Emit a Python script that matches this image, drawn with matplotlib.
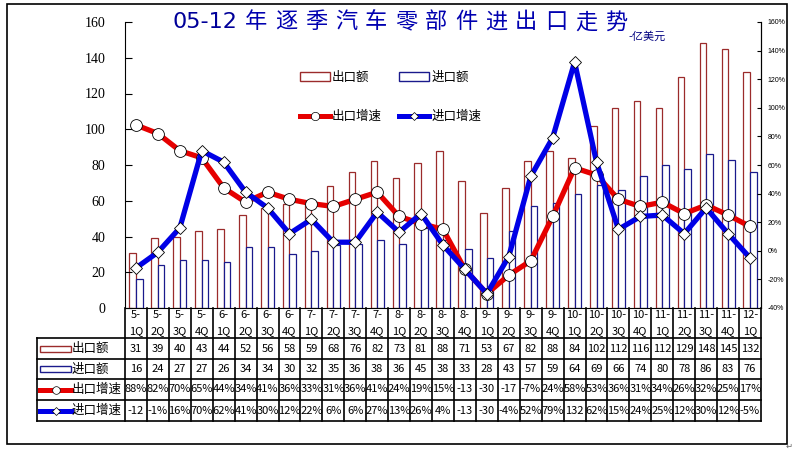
import numpy as np
import matplotlib
matplotlib.use('Agg')
import matplotlib.pyplot as plt
import matplotlib.transforms as mtrans
from matplotlib.patches import Patch, Rectangle
from matplotlib.lines import Line2D

plt.rcParams['font.family'] = ['Noto Sans CJK SC', 'DejaVu Sans']

# ---- data (亿美元 / %) ----
quarters = ['5-1Q', '5-2Q', '5-3Q', '5-4Q', '6-1Q', '6-2Q', '6-3Q', '6-4Q',
            '7-1Q', '7-2Q', '7-3Q', '7-4Q', '8-1Q', '8-2Q', '8-3Q', '8-4Q',
            '9-1Q', '9-2Q', '9-3Q', '9-4Q', '10-1Q', '10-2Q', '10-3Q', '10-4Q',
            '11-1Q', '11-2Q', '11-3Q', '11-4Q', '12-1Q']
export = [31, 39, 40, 43, 44, 52, 56, 58, 59, 68, 76, 82, 73, 81, 88, 71,
          53, 67, 82, 88, 84, 102, 112, 116, 112, 129, 148, 145, 132]
imports = [16, 24, 27, 27, 26, 34, 34, 30, 32, 35, 36, 38, 36, 45, 38, 33,
           28, 43, 57, 59, 64, 69, 66, 74, 80, 78, 86, 83, 76]
export_g = [88, 82, 70, 65, 44, 34, 41, 36, 33, 31, 36, 41, 24, 19, 15, -13,
            -30, -17, -7, 24, 58, 53, 36, 31, 34, 26, 32, 25, 17]
import_g = [-12, -1, 16, 70, 62, 41, 30, 12, 22, 6, 6, 27, 13, 26, 4, -13,
            -30, -4, 52, 79, 132, 62, 15, 24, 25, 12, 30, 12, -5]
names = ['出口额', '进口额', '出口增速', '进口增速']

title_num = '05-12'
title_cn = '年逐季汽车零部件进出口走势'
unit = '-亿美元'

c_exp_bar = '#9b2b2b'
c_imp_bar = '#1a1a8c'
c_exp = '#e60000'
c_imp = '#0000e6'

W, H = 795, 451
L, R, T, B = 125, 761, 22, 308
n = len(quarters)
cw = (R - L) / n

fig = plt.figure(figsize=(W / 100, H / 100), dpi=100)
ax = fig.add_axes([L / W, 1 - B / H, (R - L) / W, (B - T) / H])
ax2 = ax.twinx()

x = np.arange(n)
ax.bar(x - 0.15, export, 0.3, facecolor='white', edgecolor=c_exp_bar, lw=0.9)
ax.bar(x + 0.15, imports, 0.3, facecolor='white', edgecolor=c_imp_bar, lw=0.9)
ax.set_xlim(-0.5, n - 0.5)
ax.set_ylim(0, 160)
ax.set_yticks(range(0, 161, 20))
ax.set_xticks([])
ax.tick_params(axis='y', direction='in', length=5, pad=14, labelsize=10,
               labelfontfamily='Liberation Serif')

ax2.plot(x, export_g, color=c_exp, lw=3.8, marker='o', ms=8.5,
         mfc='white', mec='black', mew=0.6)
ax2.plot(x, import_g, color=c_imp, lw=3.8, marker='D', ms=6,
         mfc='white', mec='black', mew=0.6)
ax2.set_ylim(-40, 160)
ax2.set_yticks(range(-40, 161, 20))
ax2.yaxis.set_major_formatter(lambda v, p: f"{v:.0f}%")
ax2.tick_params(axis='y', direction='in', length=3, pad=5, labelsize=5,
                labelfontfamily='Liberation Sans')
for a in (ax, ax2):
    a.spines['top'].set_visible(False)
ax2.spines['left'].set_visible(False)
ax2.spines['bottom'].set_visible(False)

# legend inside plot
hl = [Patch(facecolor='white', edgecolor=c_exp_bar, lw=1),
      Line2D([], [], color=c_exp, lw=3.6, marker='o', ms=6, mfc='white', mec='black', mew=0.5),
      Patch(facecolor='white', edgecolor=c_imp_bar, lw=1),
      Line2D([], [], color=c_imp, lw=3.6, marker='D', ms=4.5, mfc='white', mec='black', mew=0.5)]
ax2.legend(hl, [names[0], names[2], names[1], names[3]], ncol=2, frameon=False,
           loc='upper left', bbox_to_anchor=(300 / W, 1 - 71 / H),
           bbox_transform=fig.transFigure, borderpad=0, borderaxespad=0,
           fontsize=9, handlelength=2.4, handletextpad=0.15,
           columnspacing=1.4, labelspacing=2.1)

# ---- data table under the axis ----
tr = mtrans.blended_transform_factory(ax.transData, fig.transFigure)
fy = lambda p: 1 - p / H
px2x = lambda p: -0.5 + (p - L) / cw
rows = [308, 338, 359, 379, 400, 421]
hl_x = px2x(37)
for b in np.arange(-0.5, n):
    fig.add_artist(Line2D([b, b], [fy(rows[0]), fy(rows[-1])], transform=tr, color='black', lw=1.2))
fig.add_artist(Line2D([hl_x, hl_x], [fy(rows[1]), fy(rows[-1])], transform=tr, color='black', lw=1.2))
for r in rows[1:]:
    fig.add_artist(Line2D([hl_x, n - 0.5], [fy(r), fy(r)], transform=tr, color='black', lw=1.2))

for i, q in enumerate(quarters):
    yr, qq = q.split('-')
    fig.text(i, fy(315), yr + '-', transform=tr, ha='center', va='center', fontsize=8)
    fig.text(i, fy(331), qq, transform=tr, ha='center', va='center', fontsize=8)

row_vals = [[str(v) for v in export], [str(v) for v in imports],
            [f"{v}%"[:3] for v in export_g], [f"{v}%"[:3] for v in import_g]]
for k, vals in enumerate(row_vals):
    ym = fy((rows[k + 1] + rows[k + 2]) / 2)
    for i, s in enumerate(vals):
        fig.text(i, ym, s, transform=tr, ha='center', va='center', fontsize=8)
    # key + name in the header column
    if k < 2:
        ec = c_exp_bar if k == 0 else c_imp_bar
        fig.add_artist(Rectangle((px2x(40), ym - 3 / H), px2x(71) - px2x(40), 6 / H,
                                 transform=tr, facecolor='white', edgecolor=ec, lw=1))
    else:
        lc = c_exp if k == 2 else c_imp
        fig.add_artist(Line2D([px2x(40), px2x(71)], [ym, ym], transform=tr, color=lc, lw=3.6))
        fig.add_artist(Line2D([px2x(55.5)], [ym], transform=tr, marker='o' if k == 2 else 'D',
                              ms=5.5 if k == 2 else 4.5, mfc='white', mec='black', mew=0.5))
    fig.text(px2x(72), ym, names[k], transform=tr, ha='left', va='center', fontsize=9)

# ---- title ----
fig.text(172 / W, fy(22), title_num, ha='left', va='center', fontsize=16,
         color='#000099', family='DejaVu Sans')
for i, ch in enumerate(title_cn):
    fig.text((256 + i * 30) / W, fy(22), ch, ha='center', va='center',
             fontsize=16, color='#0000b0')
fig.text(628 / W, fy(37), unit, ha='left', va='center', fontsize=8, color='#000080')

# outer frame
fig.add_artist(Rectangle((7 / W, fy(444)), 780 / W, 440 / H, transform=fig.transFigure,
                         fill=False, edgecolor='black', lw=1.2))
fig.text(786 / W, fy(446), '↵', fontsize=6, color='#666666', family='DejaVu Sans',
         ha='left', va='center')

fig.savefig('out.png', dpi=100)
